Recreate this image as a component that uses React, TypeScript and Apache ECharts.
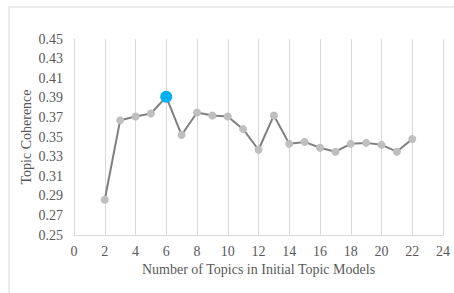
import React, { useEffect, useRef } from "react";
import * as echarts from "echarts";

const topics = [2, 3, 4, 5, 6, 7, 8, 9, 10, 11, 12, 13, 14, 15, 16, 17, 18, 19, 20, 21, 22];
const coherence = [0.286, 0.367, 0.371, 0.374, 0.391, 0.352, 0.375, 0.372, 0.371, 0.358, 0.337, 0.372, 0.343, 0.345, 0.339, 0.335, 0.343, 0.344, 0.342, 0.335, 0.348];
const highlightTopic = 6;

export default function App() {
  const ref = useRef<HTMLDivElement>(null);
  useEffect(() => {
    const chart = echarts.init(ref.current!, null, { renderer: "svg" });
    const font = "Liberation Serif";
    const textColor = "#595959";
    chart.setOption({
      animation: false,
      backgroundColor: "#ffffff",
      graphic: [
        {
          type: "rect",
          shape: { x: 9, y: 7, width: 460, height: 300 },
          style: { fill: "none", stroke: "#d9d9d9", lineWidth: 1 },
          silent: true,
        },
      ],
      grid: { left: 74, right: 11, top: 39, bottom: 58 },
      xAxis: {
        type: "value",
        min: 0,
        max: 24,
        interval: 2,
        name: "Number of Topics in Initial Topic Models",
        nameLocation: "middle",
        nameGap: 27,
        nameMoveOverlap: false,
        nameTextStyle: { fontFamily: font, fontSize: 14, color: textColor },
        axisLine: { show: true, lineStyle: { color: "#d9d9d9" } },
        axisTick: { show: false },
        axisLabel: { fontFamily: font, fontSize: 14, color: textColor, margin: 9 },
        splitLine: { show: true, lineStyle: { color: "#d9d9d9" } },
      },
      yAxis: {
        type: "value",
        min: 0.25,
        max: 0.45,
        interval: 0.02,
        name: "Topic Coherence",
        nameLocation: "middle",
        nameGap: 41,
        nameMoveOverlap: false,
        nameTextStyle: { fontFamily: font, fontSize: 14, color: textColor },
        axisLine: { show: true, lineStyle: { color: "#d9d9d9" } },
        axisTick: { show: false },
        axisLabel: {
          fontFamily: font,
          fontSize: 14,
          color: textColor,
          margin: 11,
          formatter: (v: number) => v.toFixed(2),
        },
        splitLine: { show: false },
      },
      series: [
        {
          type: "line",
          data: topics.map((t, i) => {
            const p: any = { value: [t, coherence[i]] };
            if (t === highlightTopic) {
              p.symbolSize = 12;
              p.itemStyle = { color: "#00b0f0" };
            }
            return p;
          }),
          symbol: "circle",
          symbolSize: 8,
          showAllSymbol: true,
          lineStyle: { color: "#7f7f7f", width: 2 },
          itemStyle: { color: "#bfbfbf", borderWidth: 0 },
          z: 3,
        },
      ],
    });
    return () => chart.dispose();
  }, []);
  return <div ref={ref} style={{ width: 454, height: 293, position: "absolute", left: 0, top: 0 }} />;
}
